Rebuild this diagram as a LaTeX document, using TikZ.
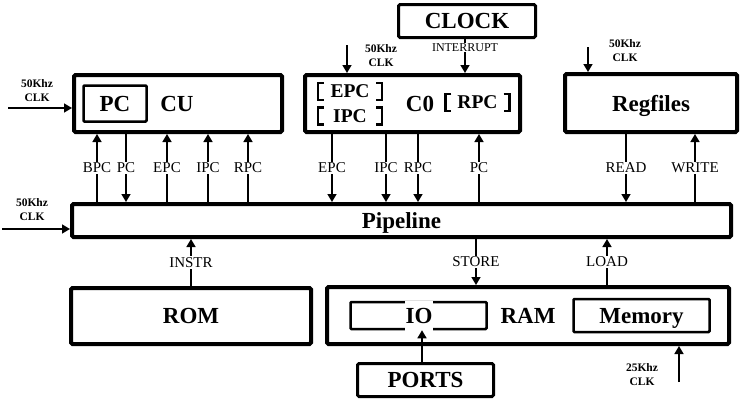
\documentclass[tikz,border=0pt]{standalone}
\usepackage{fontspec}
\setmainfont{Liberation Serif}
\usetikzlibrary{arrows.meta,positioning}
\tikzset{blk/.style={draw,line width=4pt,rounded corners=1.5pt,inner sep=0pt,text depth=0pt,font=\bfseries\fontsize{23}{26}\selectfont},
inblk/.style={draw,line width=2.5pt,rounded corners=1pt,inner sep=0pt,text depth=0pt,font=\bfseries\fontsize{23}{26}\selectfont},
big/.style={inner sep=0pt,text depth=0pt,font=\bfseries\fontsize{23}{26}\selectfont},
brtxt/.style={inner sep=0pt,minimum width=64pt,minimum height=17pt,text depth=0pt,font=\bfseries\fontsize{19.5}{22}\selectfont},
lab/.style={fill=white,inner sep=1pt,font=\fontsize{15}{17}\selectfont},
clk/.style={align=center,inner sep=0pt,font=\bfseries\fontsize{11.5}{14}\selectfont},
tipdn/.style={-{Triangle[length=8pt,width=9pt]},line width=1.5pt},
tipup/.style={{Triangle[length=8pt,width=9pt]}-,line width=1.5pt}}
\begin{document}
\begin{tikzpicture}[x=1pt,y=-1pt]
\useasboundingbox (0,0) rectangle (742,407);
% top row
\node[blk,minimum width=208,minimum height=57] (cu) at (178,103.5) {};
\node[inblk,minimum width=63,minimum height=36] (pc) at (115,103.5) {PC};
\node[big] (cutxt) at (177,104) {CU};

\node[blk,minimum width=215,minimum height=57] (c0) at (412.5,103.5) {};
\node[big] (c0txt) at (420,104) {C0};
\node[brtxt] (epc) at (350,91.5) {EPC};
\node[brtxt] (ipc) at (350,116) {IPC};
\node[brtxt] (rpc) at (477.5,102.5) {RPC};
\foreach \n in {epc,ipc,rpc}{
  \draw[line width=2.5pt] ([xshift=6pt]\n.north west) -- (\n.north west) -- (\n.south west) -- ([xshift=6pt]\n.south west);
  \draw[line width=2.5pt] ([xshift=-6pt]\n.north east) -- (\n.north east) -- (\n.south east) -- ([xshift=-6pt]\n.south east);
}

\node[blk,line width=3pt,minimum width=137,minimum height=33] (clock) at (467,21) {CLOCK};
\node[blk,minimum width=172,minimum height=58] (regf) at (651,103) {Regfiles};

% pipeline
\node[blk,minimum width=659,minimum height=33] (pipe) at (401.5,220.5) {Pipeline};

% bottom row
\node[blk,minimum width=240,minimum height=56] (rom) at (191,316) {ROM};
\node[blk,minimum width=402,minimum height=57] (ram) at (528,315.5) {};
\node[big] (ramtxt) at (528,316) {RAM};
\node[inblk,minimum width=136,minimum height=27] (io) at (418.5,315.5) {};
\node[big,fill=white,minimum height=31,inner xsep=1pt] (iotxt) at (419,316) {IO};
\node[inblk,minimum width=136,minimum height=33] (mem) at (641.5,315.5) {Memory};
\node[blk,line width=3pt,minimum width=136,minimum height=33] (ports) at (425.5,380) {PORTS};

% clocks
\node[clk] (clkcu) at (37,91) {50Khz\\CLK};
\coordinate (cuin) at (8,108);
\draw[tipdn] (cuin) -- (cuin -| cu.west);
\node[clk] (clkc0) at (381,56) {50Khz\\CLK};
\coordinate (c0in) at (347,45);
\draw[tipdn] (c0in) -- (c0in |- c0.north);
\node[clk] (clkrf) at (625,51) {50Khz\\CLK};
\coordinate (rfin) at (588,47);
\draw[tipdn] (rfin) -- (rfin |- regf.north);
\node[clk] (clkpp) at (32,210) {50Khz\\CLK};
\coordinate (ppin) at (2,229);
\draw[tipdn] (ppin) -- (ppin -| pipe.west);
\node[clk] (clkram) at (642,375) {25Khz\\CLK};
\coordinate (ramin) at (679,382);
\draw[tipdn] (ramin) -- (ramin |- ram.south);

% buses
\draw[tipdn] (clock.south -| 465,0) -- node[lab,pos=0.25,font=\fontsize{12}{14}\selectfont] {INTERRUPT} (c0.north -| 465,0);
\foreach \x/\t/\s in {97/BPC/tipup,126/PC/tipdn,167/EPC/tipup,208/IPC/tipup,248/RPC/tipup}{
  \coordinate (c) at (\x,0);
  \draw[\s] (cu.south -| c) -- node[lab] {\t} (pipe.north -| c);
}
\foreach \x/\t/\s in {332/EPC/tipdn,386/IPC/tipdn,418/RPC/tipdn,479/PC/tipup}{
  \coordinate (c) at (\x,0);
  \draw[\s] (c0.south -| c) -- node[lab] {\t} (pipe.north -| c);
}
\foreach \x/\t/\s in {626/READ/tipdn,695/WRITE/tipup}{
  \coordinate (c) at (\x,0);
  \draw[\s] (regf.south -| c) -- node[lab] {\t} (pipe.north -| c);
}
\coordinate (cinstr) at (191,0);
\draw[tipup] (pipe.south -| cinstr) -- node[lab] {INSTR} (rom.north -| cinstr);
\coordinate (cstore) at (476,0);
\draw[tipdn] (pipe.south -| cstore) -- node[lab] {STORE} (ram.north -| cstore);
\coordinate (cload) at (607,0);
\draw[tipup] (pipe.south -| cload) -- node[lab] {LOAD} (ram.north -| cload);
\coordinate (cport) at (422,0);
\draw[tipdn] (ports.north -| cport) -- (io.south -| cport);
\end{tikzpicture}
\end{document}
